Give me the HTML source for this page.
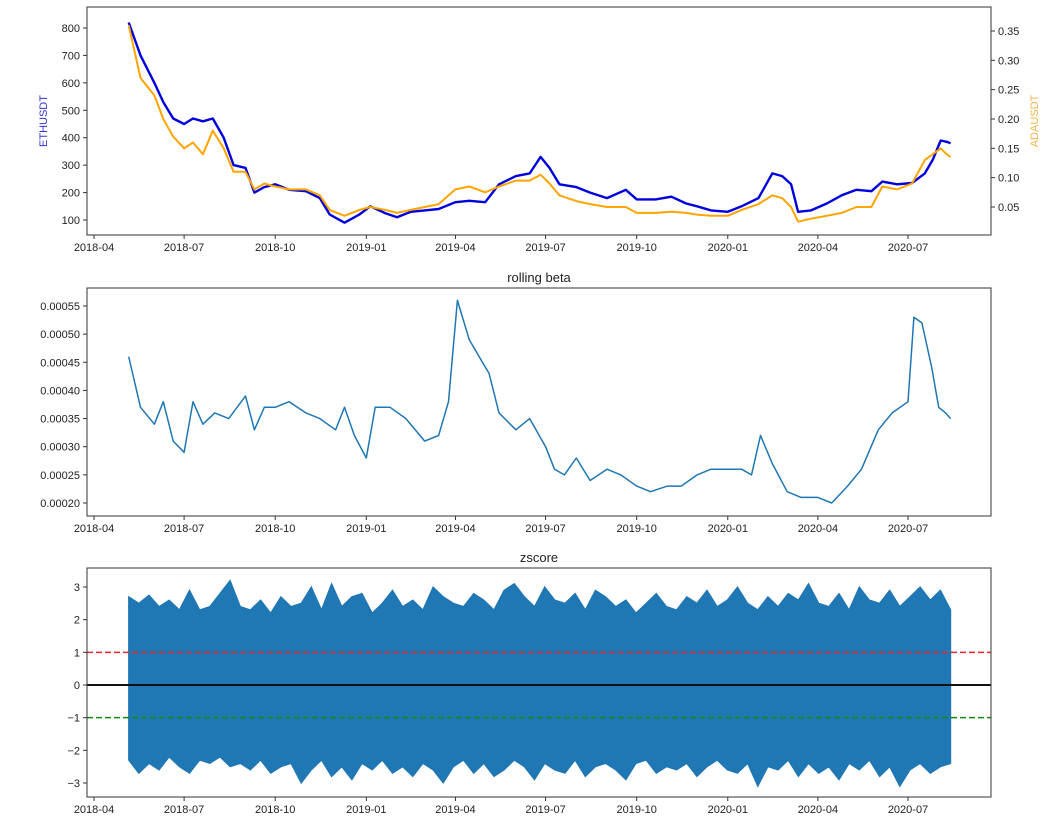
<!DOCTYPE html>
<html><head><meta charset="utf-8">
<style>
body{margin:0;background:#fff;}
svg text{font-family:"Liberation Sans",sans-serif;font-size:11px;fill:#222;}
</style></head>
<body>
<svg id="c" width="1060" height="832" viewBox="0 0 1060 832" xmlns="http://www.w3.org/2000/svg"></svg>
<script>
// ---- data ----
const priceDates = ["2018-05-06","2018-05-18","2018-06-01","2018-06-10","2018-06-20","2018-07-01","2018-07-10","2018-07-20","2018-07-30","2018-08-10","2018-08-20","2018-09-01","2018-09-10","2018-09-20","2018-10-01","2018-10-15","2018-11-01","2018-11-15","2018-11-25","2018-12-10","2018-12-25","2019-01-05","2019-01-20","2019-02-01","2019-02-15","2019-03-01","2019-03-15","2019-04-01","2019-04-15","2019-05-01","2019-05-15","2019-06-01","2019-06-15","2019-06-26","2019-07-05","2019-07-15","2019-08-01","2019-08-15","2019-09-01","2019-09-20","2019-10-01","2019-10-20","2019-11-05","2019-11-20","2019-12-01","2019-12-15","2020-01-01","2020-01-15","2020-02-01","2020-02-15","2020-02-25","2020-03-05","2020-03-12","2020-03-25","2020-04-10","2020-04-25","2020-05-10","2020-05-25","2020-06-05","2020-06-20","2020-07-05","2020-07-18","2020-07-26","2020-08-03","2020-08-09","2020-08-13"];
const ethValues = [820,700,600,530,470,450,470,460,470,400,300,290,200,220,230,210,205,180,120,90,120,150,125,110,130,135,140,165,170,165,230,260,270,330,290,230,220,200,180,210,175,175,185,160,150,135,130,150,180,270,260,230,130,135,160,190,210,205,240,230,235,270,320,390,385,380];
const adaValues = [0.36,0.27,0.24,0.20,0.17,0.15,0.16,0.14,0.18,0.15,0.11,0.11,0.08,0.09,0.085,0.08,0.08,0.07,0.045,0.035,0.045,0.05,0.045,0.04,0.045,0.05,0.055,0.08,0.085,0.075,0.085,0.095,0.095,0.105,0.09,0.07,0.06,0.055,0.05,0.05,0.04,0.04,0.042,0.04,0.037,0.035,0.035,0.045,0.055,0.07,0.065,0.05,0.025,0.03,0.035,0.04,0.05,0.05,0.085,0.08,0.09,0.13,0.14,0.15,0.14,0.135];
const betaDates = ["2018-05-06","2018-05-18","2018-06-01","2018-06-10","2018-06-20","2018-07-01","2018-07-10","2018-07-20","2018-08-01","2018-08-15","2018-09-01","2018-09-10","2018-09-20","2018-10-01","2018-10-15","2018-11-01","2018-11-15","2018-12-01","2018-12-10","2018-12-20","2019-01-01","2019-01-10","2019-01-25","2019-02-10","2019-03-01","2019-03-15","2019-03-25","2019-04-03","2019-04-15","2019-04-25","2019-05-05","2019-05-15","2019-06-01","2019-06-15","2019-07-01","2019-07-10","2019-07-20","2019-08-01","2019-08-15","2019-09-01","2019-09-15","2019-10-01","2019-10-15","2019-11-01","2019-11-15","2019-12-01","2019-12-15","2020-01-01","2020-01-15","2020-01-25","2020-02-03","2020-02-15","2020-03-01","2020-03-15","2020-04-01","2020-04-15","2020-05-01","2020-05-15","2020-06-01","2020-06-15","2020-07-01","2020-07-07","2020-07-15","2020-07-25","2020-08-01","2020-08-08","2020-08-13"];
const betaValues = [0.00046,0.00037,0.00034,0.00038,0.00031,0.00029,0.00038,0.00034,0.00036,0.00035,0.00039,0.00033,0.00037,0.00037,0.00038,0.00036,0.00035,0.00033,0.00037,0.00032,0.00028,0.00037,0.00037,0.00035,0.00031,0.00032,0.00038,0.00056,0.00049,0.00046,0.00043,0.00036,0.00033,0.00035,0.00030,0.00026,0.00025,0.00028,0.00024,0.00026,0.00025,0.00023,0.00022,0.00023,0.00023,0.00025,0.00026,0.00026,0.00026,0.00025,0.00032,0.00027,0.00022,0.00021,0.00021,0.00020,0.00023,0.00026,0.00033,0.00036,0.00038,0.00053,0.00052,0.00044,0.00037,0.00036,0.00035];
const zStart = "2018-05-06";
const zEnd = "2020-08-13";
const zUpper = [2.7,2.5,2.75,2.4,2.6,2.3,2.9,2.3,2.4,2.8,3.2,2.4,2.3,2.6,2.2,2.7,2.4,2.5,3.0,2.3,3.1,2.4,2.7,2.8,2.2,2.5,2.9,2.4,2.6,2.3,3.0,2.7,2.5,2.4,2.8,2.6,2.3,2.9,3.1,2.7,2.4,3.0,2.6,2.5,2.8,2.3,2.9,2.7,2.4,2.6,2.2,2.5,2.8,2.4,2.3,2.7,2.5,2.9,2.4,2.6,3.0,2.5,2.3,2.7,2.4,2.8,2.6,3.1,2.5,2.4,2.8,2.3,3.0,2.6,2.5,2.9,2.4,2.7,3.0,2.6,2.9,2.3];
const zLower = [-2.3,-2.7,-2.4,-2.6,-2.2,-2.5,-2.7,-2.3,-2.4,-2.2,-2.5,-2.4,-2.6,-2.3,-2.7,-2.5,-2.4,-3.0,-2.6,-2.3,-2.8,-2.5,-2.9,-2.4,-2.6,-2.3,-2.7,-2.5,-2.8,-2.4,-2.6,-3.0,-2.5,-2.3,-2.7,-2.4,-2.8,-2.6,-2.3,-2.5,-2.9,-2.4,-2.6,-2.7,-2.3,-2.8,-2.5,-2.4,-2.6,-2.9,-2.4,-2.3,-2.7,-2.5,-2.6,-2.4,-2.8,-2.5,-2.3,-2.6,-2.7,-2.4,-3.1,-2.5,-2.6,-2.3,-2.8,-2.4,-2.7,-2.5,-2.9,-2.4,-2.6,-2.3,-2.8,-2.5,-3.1,-2.6,-2.4,-2.7,-2.5,-2.4];
const xTickLabels = ["2018-04","2018-07","2018-10","2019-01","2019-04","2019-07","2019-10","2020-01","2020-04","2020-07"];
const ethTicks = [100,200,300,400,500,600,700,800];
const adaTicks = [0.05,0.10,0.15,0.20,0.25,0.30,0.35];
const betaTicks = [0.00020,0.00025,0.00030,0.00035,0.00040,0.00045,0.00050,0.00055];
const zTicks = [-3,-2,-1,0,1,2,3];

// ---- layout ----
const svg = document.getElementById('c');
const NS = 'http://www.w3.org/2000/svg';
const L = 87, R = 991;
const t0 = Date.UTC(2018,3,1), t1 = Date.UTC(2020,6,1);
function day(s){const p=s.split('-').map(Number);return Date.UTC(p[0],p[1]-1,p[2]||1);}
function xS(s){return 94 + (day(s)-t0)/(t1-t0)*(908-94);}
function lin(v0,p0,v1,p1){return v=>p0+(v-v0)/(v1-v0)*(p1-p0);}
function mk(tag,attrs,parent){const e=document.createElementNS(NS,tag);for(const k in attrs)e.setAttribute(k,attrs[k]);(parent||svg).appendChild(e);return e;}
function txt(x,y,s,anchor,parent){const e=mk('text',{x:x,y:y,'text-anchor':anchor||'middle'},parent);e.textContent=s;return e;}

function frame(top,bottom,name){
  const g=mk('g',{});
  
  
  return g;
}
function border(g,top,bottom){
  mk('rect',{x:L,y:top,width:R-L,height:bottom-top,fill:'none',stroke:'#333','stroke-width':1},g);
}
function xAxis(g,bottom){
  const ax=mk('g',{},g);
  
  
  xTickLabels.forEach(lb=>{const x=xS(lb);mk('line',{x1:x,x2:x,y1:bottom,y2:bottom+4,stroke:'#333'},ax);txt(x,bottom+16,lb,'middle',ax);});
}
function yAxis(g,ticks,sc,fmt,side){
  const ax=mk('g',{},g);
  
  
  ticks.forEach(v=>{const y=sc(v);
    if(side==='r'){mk('line',{x1:R,x2:R+4,y1:y,y2:y,stroke:'#333'},ax);txt(R+7,y+4,fmt(v),'start',ax);}
    else{mk('line',{x1:L-4,x2:L,y1:y,y2:y,stroke:'#333'},ax);txt(L-7,y+4,fmt(v),'end',ax);}
  });
}
function line(g,dates,vals,sc,color,w,name){
  const pts=dates.map((d,i)=>xS(d).toFixed(1)+','+sc(vals[i]).toFixed(1)).join(' ');
  const p=mk('polyline',{points:pts,fill:'none',stroke:color,'stroke-width':w,'stroke-linejoin':'round'},g);
  
  
}

// ---- panel 1 ----
const g1=frame(7,235,'price-panel');
const yEth=lin(100,220,800,28), yAda=lin(0.05,207,0.35,31);
line(g1,priceDates,ethValues,yEth,'#0000dd',2.4,'ethusdt-line');
line(g1,priceDates,adaValues,yAda,'#ffa500',2,'adausdt-line');
border(g1,7,235);xAxis(g1,235);
yAxis(g1,ethTicks,yEth,v=>String(v),'l');
yAxis(g1,adaTicks,yAda,v=>v.toFixed(2),'r');
const lb1=txt(47,121,'ETHUSDT','middle',g1);lb1.setAttribute('transform','rotate(-90 47 121)');lb1.setAttribute('style','fill:#3333cc');

const lb2=txt(1038,121,'ADAUSDT','middle',g1);lb2.setAttribute('transform','rotate(-90 1038 121)');lb2.setAttribute('style','fill:#f2b44a');


// ---- panel 2 ----
const g2=frame(288,516,'rolling-beta-panel');
const yB=lin(0.00020,503,0.00055,306);
line(g2,betaDates,betaValues,yB,'#1f77b4',1.5,'rolling-beta-line');
border(g2,288,516);xAxis(g2,516);
yAxis(g2,betaTicks,yB,v=>v.toFixed(5),'l');
const tt2=txt(539,282,'rolling beta','middle',g2);tt2.setAttribute('style','font-size:13px');


// ---- panel 3 ----
const g3=frame(568,797,'zscore-panel');
const yZ=lin(-3,783,3,587);
const xa=xS(zStart), xb=xS(zEnd);
const n=zUpper.length;
let up=[],lo=[];
zUpper.forEach((v,i)=>{const x=xa+(xb-xa)*i/(n-1);up.push(x.toFixed(1)+','+yZ(v).toFixed(1));});
zLower.forEach((v,i)=>{const x=xa+(xb-xa)*i/(zLower.length-1);lo.push(x.toFixed(1)+','+yZ(v).toFixed(1));});
const zp=mk('polygon',{points:up.concat(lo.reverse()).join(' '),fill:'#1f77b4',stroke:'#1f77b4','stroke-width':1.2,'stroke-linejoin':'miter'},g3);


const h1=mk('line',{x1:L,x2:R,y1:yZ(1),y2:yZ(1),stroke:'#e8252a','stroke-width':1.5,'stroke-dasharray':'6,3'},g3);

const h0=mk('line',{x1:L,x2:R,y1:yZ(0),y2:yZ(0),stroke:'#111','stroke-width':2},g3);

const hm=mk('line',{x1:L,x2:R,y1:yZ(-1),y2:yZ(-1),stroke:'#138a13','stroke-width':1.5,'stroke-dasharray':'6,3'},g3);

border(g3,568,797);xAxis(g3,797);
yAxis(g3,zTicks,yZ,v=>v<0?'\u2212'+Math.abs(v):String(v),'l');
const tt3=txt(539,562,'zscore','middle',g3);tt3.setAttribute('style','font-size:13px');

</script>
</body></html>
